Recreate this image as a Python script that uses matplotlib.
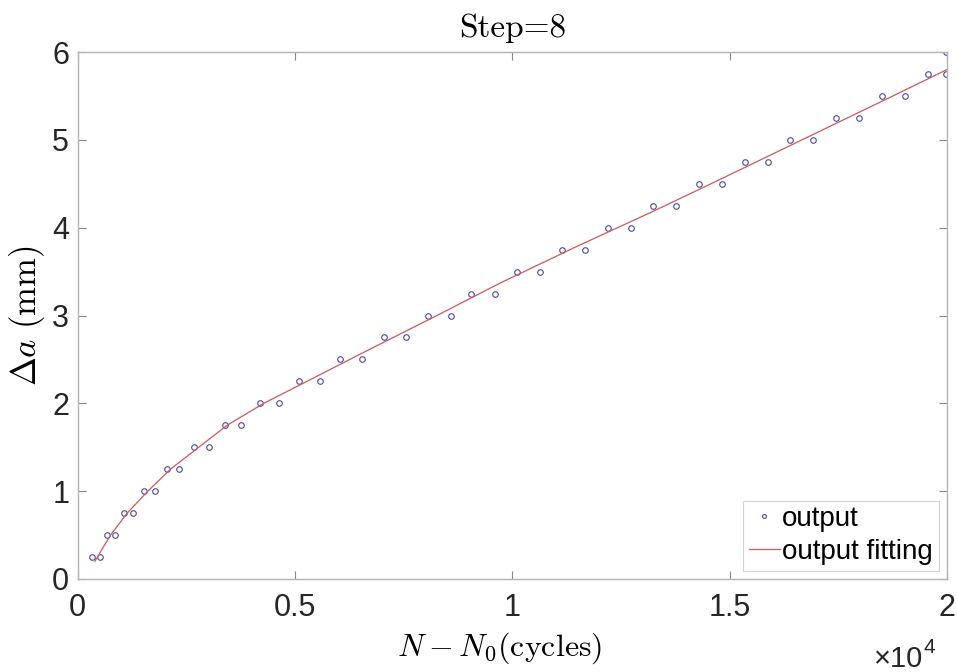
import matplotlib
matplotlib.use('Agg')
import matplotlib.pyplot as plt
from matplotlib.ticker import FuncFormatter


# measured crack growth (pairs of points per 0.25 mm step)
da_levels = [0.25, 0.50, 0.75, 1.00, 1.25, 1.50, 1.75, 2.00, 2.25, 2.50, 2.75, 3.00,
             3.25, 3.50, 3.75, 4.00, 4.25, 4.50, 4.75, 5.00, 5.25, 5.50, 5.75, 6.00]
n_first = [338, 683, 1080, 1525, 2053, 2674, 3386, 4200, 5096, 6046, 7051, 8053,
           9057, 10115, 11156, 12200, 13249, 14299, 15349, 16398, 17448, 18506, 19556, 19984]
n_second = [506, 858, 1287, 1786, 2345, 3028, 3770, 4644, 5570, 6545, 7547, 8582,
            9593, 10637, 11685, 12736, 13777, 14828, 15878, 16920, 17977, 19034, 19984]

# fitted curve
fit_n = [398, 759, 1142, 1617, 2138, 2789, 3441, 4284, 5356, 6500, 8268, 9724,
         11500, 13172, 14573, 16666, 18758, 20000]
fit_da = [0.20, 0.50, 0.75, 1.00, 1.25, 1.50, 1.75, 2.00, 2.27, 2.56, 3.00, 3.37,
          3.79, 4.17, 4.50, 5.00, 5.50, 5.80]

x_ticks = [0, 5000, 10000, 15000, 20000]
y_ticks = [0, 1, 2, 3, 4, 5, 6]

out_n = n_first + n_second
out_da = da_levels + da_levels[:len(n_second)]

plt.rcParams['font.family'] = ['Liberation Sans', 'DejaVu Sans']
plt.rcParams['mathtext.fontset'] = 'cm'

fig = plt.figure(figsize=(9.57, 6.72), dpi=100)
ax = fig.add_axes([0.081, 0.1384, 0.9085, 0.7842])

ax.plot(out_n, out_da, 'o', linestyle='none', markerfacecolor='none',
        markeredgecolor='#4a4aa0', markersize=4, markeredgewidth=0.8, label='output')
ax.plot(fit_n, fit_da, '-', color='#d05858', linewidth=0.9, label='output fitting')

ax.set_xlim(0, 20000)
ax.set_ylim(0, 6)
ax.set_xticks(x_ticks)
ax.set_yticks(y_ticks)
ax.xaxis.set_major_formatter(FuncFormatter(lambda v, p: '%g' % (v / 1e4)))

for s in ax.spines.values():
    s.set_color('#b4b4b4')
    s.set_linewidth(1.0)
ax.tick_params(direction='in', length=6, width=0.8, color='#8c8c8c',
               top=True, right=True, labelsize=22, labelcolor='#262626')
ax.tick_params(axis='x', pad=10)
ax.tick_params(axis='y', pad=6)

ax.set_xlabel(r'$N-N_0\mathrm{(cycles)}$', fontsize=23)
ax.xaxis.set_label_coords(0.486, -0.097)
ax.set_ylabel(r'$\Delta a\ \mathrm{(mm)}$', fontsize=25)
ax.yaxis.set_label_coords(-0.035, 0.5)
ax.set_title('Step=8', family='cmr10', fontsize=24, pad=11)

# x10^4 multiplier under the axis
fig.text(874 / 957, 0.008, '\u00d710', fontsize=21, color='#262626',
         ha='left', va='baseline')
fig.text(923 / 957, 0.028, '4', fontsize=15, color='#262626',
         ha='left', va='baseline')

leg = ax.legend(loc='lower right', fontsize=20, frameon=True, fancybox=False,
                borderpad=0.2, labelspacing=0.25, handlelength=1.1, handletextpad=0.1,
                borderaxespad=0.3, markerscale=0.7)
leg.get_frame().set_edgecolor('#c8c8c8')
leg.get_frame().set_linewidth(0.8)

fig.savefig('out.png', dpi=100)
